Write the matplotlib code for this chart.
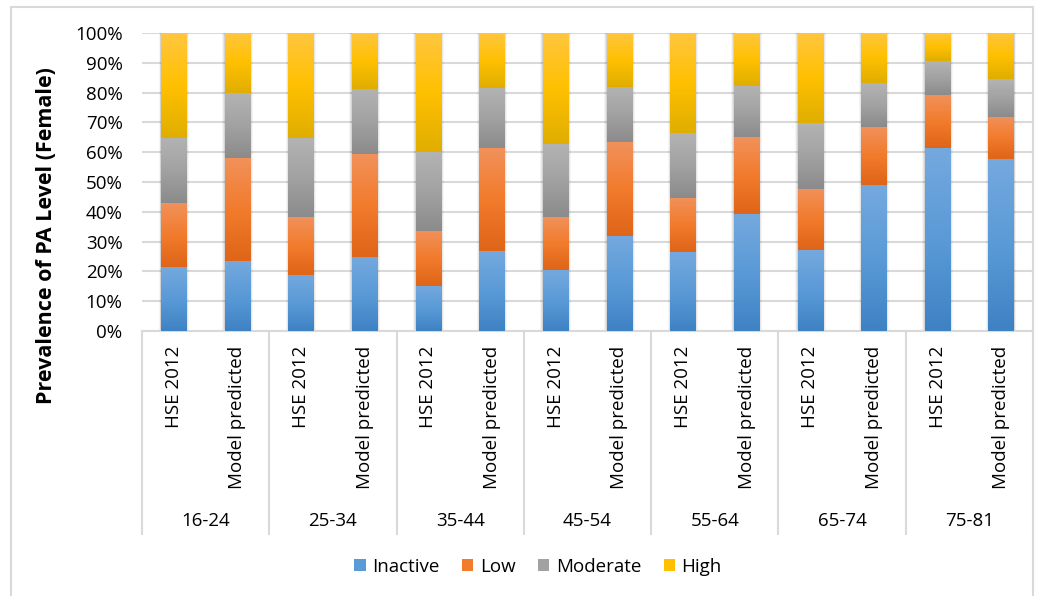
import numpy as np
import matplotlib.pyplot as plt
from matplotlib.patches import Patch, Rectangle
from matplotlib.colors import LinearSegmentedColormap
import matplotlib.transforms as mtransforms

plt.rcParams['font.family'] = ['Open Sans', 'DejaVu Sans']

# age groups and bar labels
groups = ["16-24", "25-34", "35-44", "45-54", "55-64", "65-74", "75-81"]
sources = ["HSE 2012", "Model predicted"]

# percentages per bar (HSE, Model for each age group)
inactive = [21.6, 23.6, 18.9, 24.9, 15.2, 26.7, 20.4, 32.0, 26.5, 39.3, 27.1, 48.9, 61.5, 57.6]
low = [21.3, 34.5, 19.3, 34.4, 18.5, 34.6, 17.7, 31.4, 18.2, 25.8, 20.5, 19.5, 17.7, 14.3]
moderate = [22.0, 21.7, 26.5, 21.9, 26.3, 20.4, 24.5, 18.6, 21.7, 17.1, 22.1, 14.7, 11.4, 12.5]
high = [35.1, 20.2, 35.3, 18.8, 40.0, 18.3, 37.4, 18.0, 33.6, 17.8, 30.3, 16.9, 9.4, 15.6]

series = ["Inactive", "Low", "Moderate", "High"]
# (top, middle, bottom) gradient colours
grads = [("#74a9de", "#5a9ad7", "#3f82c4"),
         ("#f1915a", "#f27b2c", "#df6519"),
         ("#b3b3b3", "#a2a2a2", "#8b8b8b"),
         ("#ffc63f", "#ffc000", "#e0ae00")]

fig = plt.figure(figsize=(10.47, 5.96), dpi=100)
W, H = 1047, 596
ax = fig.add_axes([142 / W, 1 - 331 / H, 891 / W, 298 / H])

x = np.arange(len(inactive))
width = 0.4

# soft shadow behind the bars
for w, a in [(0.48, 0.04), (0.45, 0.06), (0.42, 0.08)]:
    ax.bar(x, 100, width=w, color="black", alpha=a, zorder=2, linewidth=0)

bottom = np.zeros(len(x))
for vals, (c_top, c_mid, c_bot) in zip([inactive, low, moderate, high], grads):
    cmap = LinearSegmentedColormap.from_list("g", [c_bot, c_mid, c_top])
    grad = np.linspace(0, 1, 64).reshape(-1, 1)
    bars = ax.bar(x, vals, width=width, bottom=bottom, color=c_mid, zorder=3, linewidth=0)
    for r in bars:
        x0, y0 = r.get_x(), r.get_y()
        ax.imshow(grad, cmap=cmap, origin="lower", aspect="auto", zorder=4,
                  extent=(x0, x0 + r.get_width(), y0, y0 + r.get_height()))
    bottom += np.array(vals)

ax.set_xlim(-0.5, len(x) - 0.5)
ax.set_ylim(0, 100)
ax.set_yticks(np.arange(0, 101, 10))
ax.set_yticklabels([f"{v}%" for v in range(0, 101, 10)], fontsize=13.5)
ax.tick_params(axis="y", length=0, pad=14)
ax.set_xticks([])
ax.grid(axis="y", color="#d9d9d9", linewidth=1.5, zorder=0)
ax.set_axisbelow(True)
for s in ax.spines.values():
    s.set_visible(False)

fig.text(47 / W, 1 - 236 / H, "Prevalence of PA Level (Female)", rotation=90,
         ha="center", va="center", fontsize=15.5, fontweight="bold")

# category axis: box lines, bar labels and group labels
trans = mtransforms.blended_transform_factory(ax.transData, ax.transAxes)
y_low = (331 - 534) / 298
ax.plot([-0.5, len(x) - 0.5], [0, 0], transform=trans, color="#d9d9d9", lw=1.5, clip_on=False)
for i in range(len(groups) + 1):
    xs = -0.5 + 2 * i
    ax.plot([xs, xs], [0, y_low], transform=trans, color="#d9d9d9", lw=1.5, clip_on=False)

for i in x:
    ax.text(i, (331 - 346) / 298, sources[i % 2], transform=trans, rotation=90,
            ha="center", va="top", fontsize=13.5)
for g, name in enumerate(groups):
    ax.text(2 * g + 0.5, (331 - 521) / 298, name, transform=trans,
            ha="center", va="center", fontsize=13.5)

# outer frame
fig.patches.append(Rectangle((11 / W, -0.01), (1033 - 11) / W, 1 - 7 / H + 0.01,
                             transform=fig.transFigure, fill=False,
                             edgecolor="#d9d9d9", linewidth=1.5))

handles = [Patch(facecolor=c[1], label=s) for s, c in zip(series, grads)]
fig.legend(handles=handles, loc="center", bbox_to_anchor=(538 / W, 1 - 567 / H), ncol=4,
           frameon=False, fontsize=13.5, handlelength=0.6, handleheight=0.6,
           handletextpad=0.35, columnspacing=1.2)

fig.savefig("out.png", dpi=100)
